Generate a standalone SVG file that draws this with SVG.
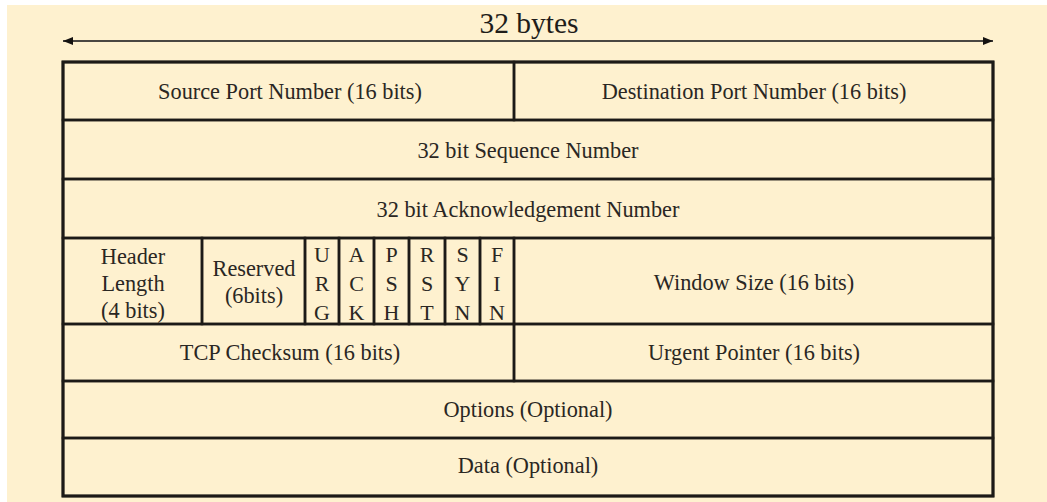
<svg xmlns="http://www.w3.org/2000/svg" width="1047" height="502" viewBox="0 0 1047 502">
  <style>
    .bg { fill: #FEF1CF; }
    .cell { fill: none; stroke: #1c1a17; stroke-width: 2.5; }
    .frame { fill: none; stroke: #1c1a17; stroke-width: 3; }
    text { font-family: 'Liberation Serif', 'DejaVu Serif', serif; fill: #2a2723; text-anchor: middle; }
    .lbl { font-size: 22.3px; }
    .flag { font-size: 22px; }
    .title { font-size: 29.5px; fill: #1f1d1a; }
    .dim { stroke: #4a4742; stroke-width: 2; fill: none; }
  </style>
  <defs>
    <marker id="head" viewBox="0 0 10 8" refX="10" refY="4" markerWidth="10" markerHeight="8" markerUnits="userSpaceOnUse" orient="auto-start-reverse">
      <path d="M0,0 L10,4 L0,8 Z" fill="#141210"/>
    </marker>
  </defs>

  <rect x="0" y="0" width="1047" height="502" fill="#ffffff"/>
  <rect class="bg" x="7" y="5" width="1040" height="497"/>

  <!-- width dimension -->
  <g id="connectors">
    <line class="dim" x1="63" y1="41" x2="993" y2="41" marker-start="url(#head)" marker-end="url(#head)"/>
  </g>
  <text class="title" x="529" y="33">32 bytes</text>

  <!-- row 1 -->
  <g id="src-port">
    <rect class="cell" x="63" y="62" width="451" height="58"/>
    <text class="lbl" x="290" y="99">Source Port Number (16 bits)</text>
  </g>
  <g id="dst-port">
    <rect class="cell" x="514" y="62" width="479" height="58"/>
    <text class="lbl" x="754" y="99">Destination Port Number (16 bits)</text>
  </g>

  <!-- row 2 -->
  <g id="seq">
    <rect class="cell" x="63" y="120" width="930" height="59"/>
    <text class="lbl" x="528" y="158">32 bit Sequence Number</text>
  </g>

  <!-- row 3 -->
  <g id="ack-num">
    <rect class="cell" x="63" y="179" width="930" height="59"/>
    <text class="lbl" x="528" y="217">32 bit Acknowledgement Number</text>
  </g>

  <!-- row 4 -->
  <g id="hdr-len">
    <rect class="cell" x="63" y="238" width="139" height="86"/>
    <text class="lbl" x="133" y="264">Header</text>
    <text class="lbl" x="133" y="291">Length</text>
    <text class="lbl" x="133" y="318">(4 bits)</text>
  </g>
  <g id="reserved">
    <rect class="cell" x="202" y="238" width="103" height="86"/>
    <text class="lbl" x="254" y="276">Reserved</text>
    <text class="lbl" x="254" y="303">(6bits)</text>
  </g>
  <g id="urg">
    <rect class="cell" x="305" y="238" width="34" height="86"/>
    <text class="flag" x="322" y="262">U</text>
    <text class="flag" x="322" y="291">R</text>
    <text class="flag" x="322" y="319.5">G</text>
  </g>
  <g id="ack">
    <rect class="cell" x="339" y="238" width="35" height="86"/>
    <text class="flag" x="356.5" y="262">A</text>
    <text class="flag" x="356.5" y="291">C</text>
    <text class="flag" x="356.5" y="319.5">K</text>
  </g>
  <g id="psh">
    <rect class="cell" x="374" y="238" width="35" height="86"/>
    <text class="flag" x="391.5" y="262">P</text>
    <text class="flag" x="391.5" y="291">S</text>
    <text class="flag" x="391.5" y="319.5">H</text>
  </g>
  <g id="rst">
    <rect class="cell" x="409" y="238" width="36" height="86"/>
    <text class="flag" x="427" y="262">R</text>
    <text class="flag" x="427" y="291">S</text>
    <text class="flag" x="427" y="319.5">T</text>
  </g>
  <g id="syn">
    <rect class="cell" x="445" y="238" width="35" height="86"/>
    <text class="flag" x="462.5" y="262">S</text>
    <text class="flag" x="462.5" y="291">Y</text>
    <text class="flag" x="462.5" y="319.5">N</text>
  </g>
  <g id="fin">
    <rect class="cell" x="480" y="238" width="34" height="86"/>
    <text class="flag" x="497" y="262">F</text>
    <text class="flag" x="497" y="291">I</text>
    <text class="flag" x="497" y="319.5">N</text>
  </g>
  <g id="window">
    <rect class="cell" x="514" y="238" width="479" height="86"/>
    <text class="lbl" x="754" y="290">Window Size (16 bits)</text>
  </g>

  <!-- row 5 -->
  <g id="checksum">
    <rect class="cell" x="63" y="324" width="451" height="57"/>
    <text class="lbl" x="290" y="360">TCP Checksum (16 bits)</text>
  </g>
  <g id="urgent">
    <rect class="cell" x="514" y="324" width="479" height="57"/>
    <text class="lbl" x="754" y="360">Urgent Pointer (16 bits)</text>
  </g>

  <!-- row 6 -->
  <g id="options">
    <rect class="cell" x="63" y="381" width="930" height="57"/>
    <text class="lbl" x="528" y="417">Options (Optional)</text>
  </g>

  <!-- row 7 -->
  <g id="data">
    <rect class="cell" x="63" y="438" width="930" height="58"/>
    <text class="lbl" x="528" y="473">Data (Optional)</text>
  </g>

  <!-- outer frame -->
  <rect class="frame" x="63" y="62" width="930" height="434"/>
</svg>
